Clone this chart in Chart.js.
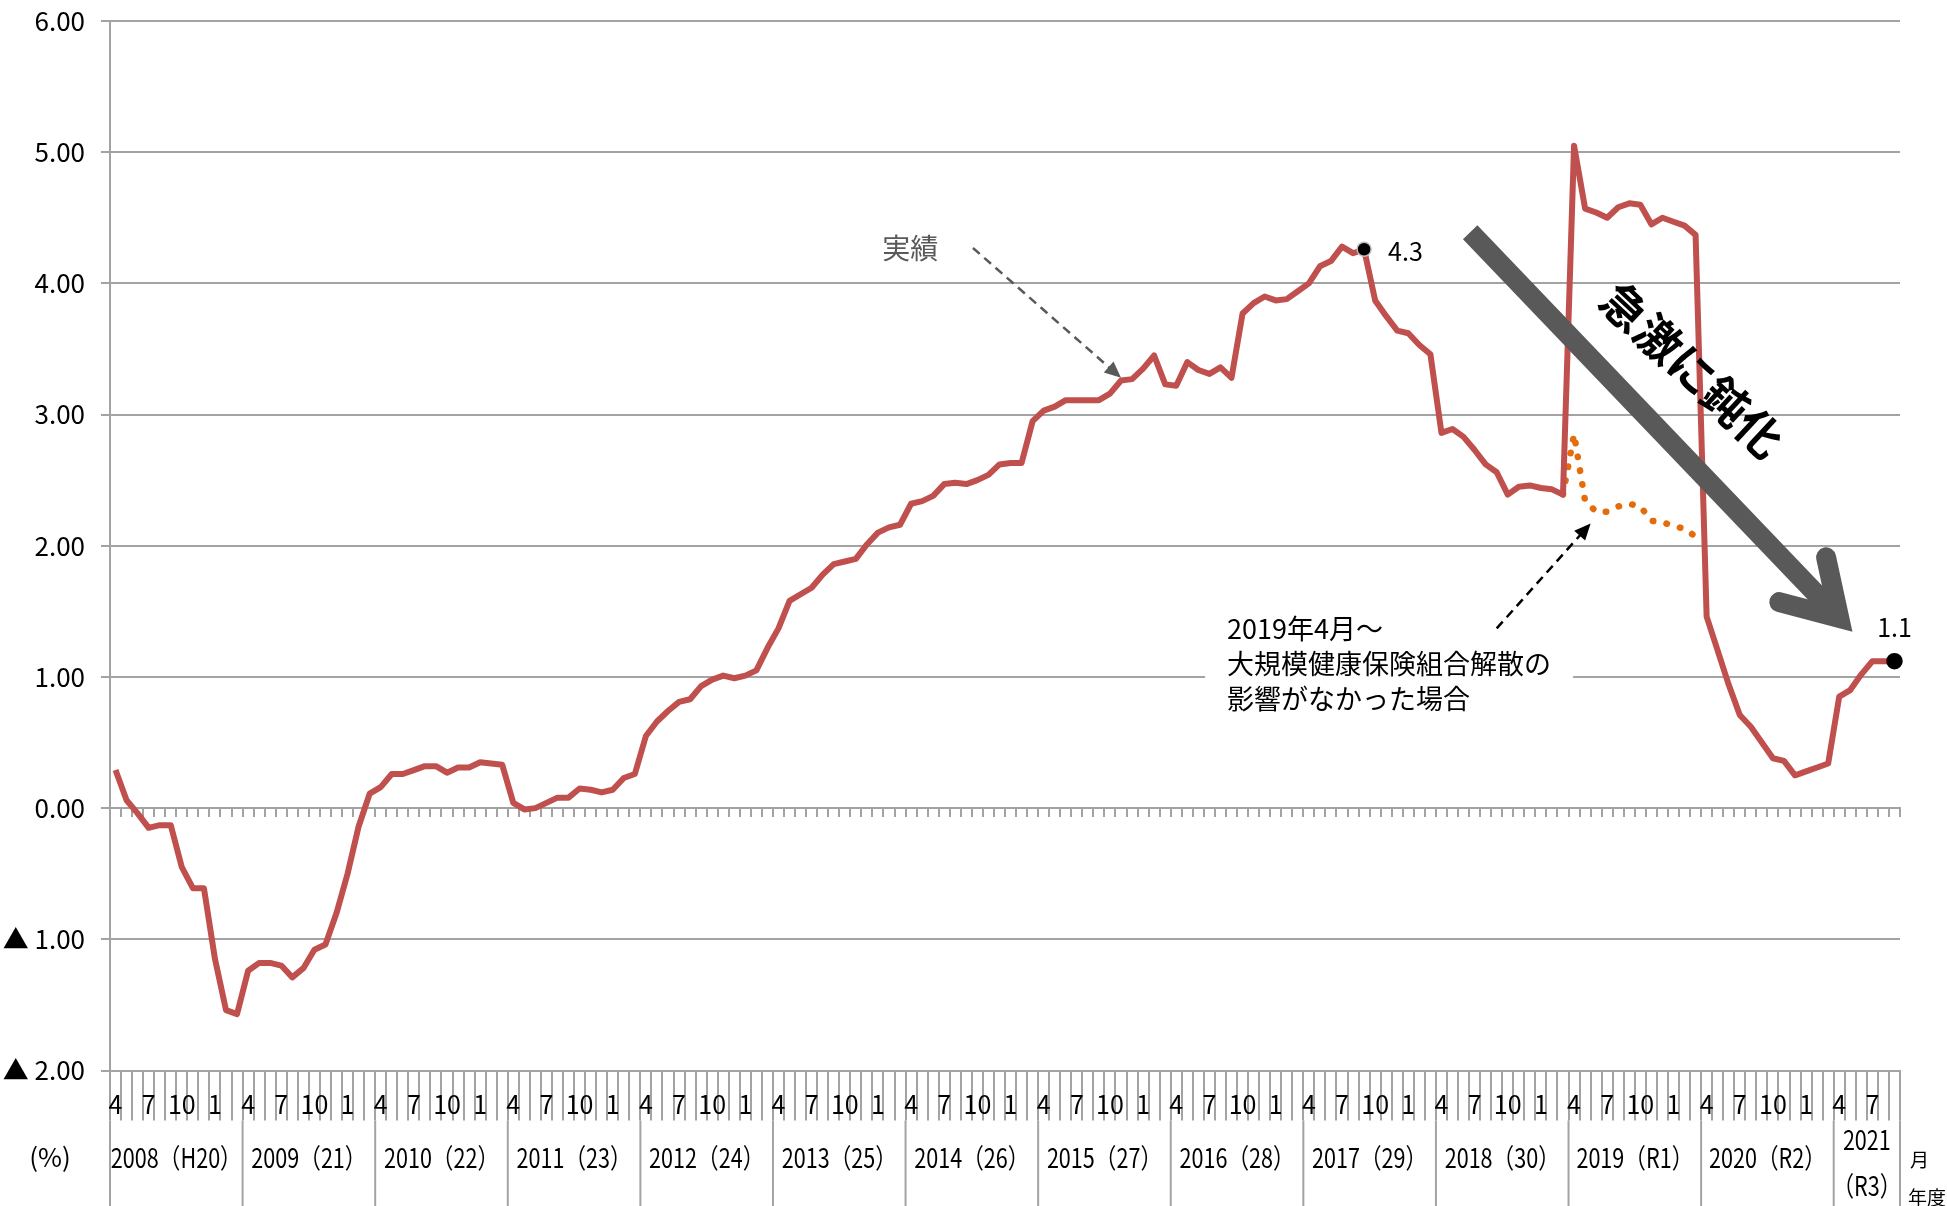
<!DOCTYPE html>
<html lang="ja">
<head>
<meta charset="utf-8">
<title>医療費の伸び率（実績）</title>
<script src="https://cdn.jsdelivr.net/npm/chart.js@4.4.1/dist/chart.umd.min.js"></script>
<style>
  html, body { margin: 0; padding: 0; background: #fff; }
</style>
</head>
<body>
<canvas id="chart" width="1947" height="1206"></canvas>
<script>
// fiscal years (April start) shown on the lower label row
const fiscalYears = ['2008（H20）', '2009（21）', '2010（22）', '2011（23）', '2012（24）', '2013（25）',
  '2014（26）', '2015（27）', '2016（28）', '2017（29）', '2018（30）', '2019（R1）', '2020（R2）', '2021\n（R3）'];
const monthOrder = [4, 5, 6, 7, 8, 9, 10, 11, 12, 1, 2, 3];
const shownMonths = [4, 7, 10, 1];
const yTicks = [-2, -1, 0, 1, 2, 3, 4, 5, 6];

// 実績 (%), one row per fiscal year
const actual = [
  0.29, 0.06, -0.04, -0.15, -0.13, -0.13, -0.45, -0.61, -0.61, -1.15, -1.54, -1.57,
  -1.24, -1.18, -1.18, -1.20, -1.29, -1.22, -1.08, -1.04, -0.80, -0.50, -0.14, 0.11,
  0.16, 0.26, 0.26, 0.29, 0.32, 0.32, 0.27, 0.31, 0.31, 0.35, 0.34, 0.33,
  0.04, -0.01, 0.00, 0.04, 0.08, 0.08, 0.15, 0.14, 0.12, 0.14, 0.23, 0.26,
  0.55, 0.66, 0.74, 0.81, 0.83, 0.93, 0.98, 1.01, 0.99, 1.01, 1.05, 1.22,
  1.37, 1.58, 1.63, 1.68, 1.78, 1.86, 1.88, 1.90, 2.01, 2.10, 2.14, 2.16,
  2.32, 2.34, 2.38, 2.47, 2.48, 2.47, 2.50, 2.54, 2.62, 2.63, 2.63, 2.95,
  3.03, 3.06, 3.11, 3.11, 3.11, 3.11, 3.16, 3.26, 3.27, 3.35, 3.45, 3.23,
  3.22, 3.40, 3.34, 3.31, 3.36, 3.28, 3.77, 3.85, 3.90, 3.87, 3.88, 3.94,
  4.00, 4.13, 4.17, 4.28, 4.23, 4.26, 3.87, 3.75, 3.64, 3.62, 3.53, 3.46,
  2.86, 2.89, 2.83, 2.73, 2.62, 2.56, 2.39, 2.45, 2.46, 2.44, 2.43, 2.39,
  5.05, 4.57, 4.54, 4.50, 4.58, 4.61, 4.60, 4.45, 4.50, 4.47, 4.44, 4.37,
  1.46, 1.20, 0.94, 0.71, 0.62, 0.50, 0.38, 0.36, 0.25, 0.28, 0.31, 0.34,
  0.85, 0.90, 1.02, 1.12, 1.12, 1.12
];

// 2019年4月～ 大規模健保組合解散の影響がなかった場合 (starts from 2019/3)
const withoutDissolution = [2.39, 2.85, 2.34, 2.26, 2.26, 2.30, 2.32, 2.30, 2.19, 2.18, 2.15, 2.13, 2.07];
const withoutStart = '2019/3';
const highlighted = ['2017/9', '2021/9'];

const GRID = '#a3a3a3';
const FONT = "'Noto Sans CJK JP', 'Noto Sans', sans-serif";

// category labels like "2008/4"
const labels = actual.map((v, i) => {
  const fy = 2008 + Math.floor(i / 12);
  const m = monthOrder[i % 12];
  return `${m >= 4 ? fy : fy + 1}/${m}`;
});
const startIdx = labels.indexOf(withoutStart);
const counterData = labels.map((l, i) =>
  i >= startIdx && i < startIdx + withoutDissolution.length ? withoutDissolution[i - startIdx] : null);

function arrowHead(ctx, x1, y1, x2, y2, size, color) {
  const a = Math.atan2(y2 - y1, x2 - x1);
  ctx.fillStyle = color;
  ctx.beginPath();
  ctx.moveTo(x2, y2);
  ctx.lineTo(x2 - size * Math.cos(a - 0.42), y2 - size * Math.sin(a - 0.42));
  ctx.lineTo(x2 - size * Math.cos(a + 0.42), y2 - size * Math.sin(a + 0.42));
  ctx.closePath();
  ctx.fill();
}

function dashedArrow(ctx, p1, p2, color, dash) {
  const a = Math.atan2(p2[1] - p1[1], p2[0] - p1[0]);
  ctx.save();
  ctx.strokeStyle = color;
  ctx.lineWidth = 2.5;
  ctx.setLineDash(dash);
  ctx.beginPath();
  ctx.moveTo(p1[0], p1[1]);
  ctx.lineTo(p2[0] - 12 * Math.cos(a), p2[1] - 12 * Math.sin(a));
  ctx.stroke();
  ctx.setLineDash([]);
  arrowHead(ctx, p1[0], p1[1], p2[0], p2[1], 18, color);
  ctx.restore();
}

const decor = {
  id: 'decor',
  afterDraw(chart) {
    const {ctx, chartArea: ca, scales: {x, y}} = chart;
    const at = (i, v) => [x.getPixelForValue(i), y.getPixelForValue(v)];
    const half = (x.getPixelForValue(1) - x.getPixelForValue(0)) / 2;
    const n = labels.length;
    const rowTop = ca.bottom + 50;
    const rowMid = rowTop + 37;
    ctx.save();

    // fiscal-year row
    ctx.strokeStyle = GRID;
    ctx.lineWidth = 2;
    ctx.fillStyle = '#000';
    ctx.textAlign = 'center';
    ctx.textBaseline = 'middle';
    fiscalYears.forEach((fy, k) => {
      const s = k * 12, e = Math.min(s + 11, n - 1);
      const left = x.getPixelForValue(s) - half;
      const right = x.getPixelForValue(e) + half;
      ctx.beginPath();
      ctx.moveTo(left, rowTop); ctx.lineTo(left, chart.height);
      if (e === n - 1) { ctx.moveTo(right, rowTop); ctx.lineTo(right, chart.height); }
      ctx.stroke();
      const cx = (left + right) / 2;
      const lines = fy.split('\n');
      ctx.font = `27px ${FONT}`;
      lines.forEach((t, j) => {
        const ty = lines.length > 1 ? rowMid - 18 + j * 46 : rowMid;
        ctx.save();
        ctx.translate(cx, ty);
        ctx.scale(0.8, 1);
        ctx.fillText(t, 0, 0);
        ctx.restore();
      });
    });
    ctx.font = `26px ${FONT}`;
    ctx.fillText('(%)', ca.left - 60, rowMid);
    ctx.font = `19px ${FONT}`;
    ctx.textAlign = 'left';
    ctx.fillText('月', ca.right + 10, rowMid + 2);
    ctx.fillText('年度', ca.right + 8, rowMid + 40);

    // value labels at highlighted points
    const meta = chart.getDatasetMeta(0);
    ctx.font = `25px ${FONT}`;
    highlighted.forEach((lab, k) => {
      const i = labels.indexOf(lab);
      const pt = meta.data[i];
      const txt = actual[i].toFixed(1);
      if (k === 0) { ctx.textAlign = 'left'; ctx.fillText(txt, pt.x + 24, pt.y + 2); }
      else { ctx.textAlign = 'center'; ctx.fillText(txt, pt.x, pt.y - 34); }
    });

    // 実績 label + arrow
    const [jx, jy] = at(69.4, 4.27);
    ctx.fillStyle = '#595959';
    ctx.textAlign = 'left';
    ctx.font = `28px ${FONT}`;
    ctx.fillText('実績', jx, jy);
    dashedArrow(ctx, at(77.6, 4.27), at(91, 3.28), '#595959', [9, 6]);

    // note box for the counterfactual line
    const noteLines = ['2019年4月～', '大規模健康保険組合解散の', '影響がなかった場合'];
    const [nx, ny] = at(100.6, 1.37);
    ctx.font = `27px ${FONT}`;
    const w = Math.max(...noteLines.map(t => ctx.measureText(t).width));
    ctx.fillStyle = '#fff';
    ctx.fillRect(nx - 22, ny - 24, w + 44, 35 * 2 + 48);
    ctx.fillStyle = '#000';
    noteLines.forEach((t, j) => ctx.fillText(t, nx, ny + j * 35));
    dashedArrow(ctx, at(125, 1.37), at(133.5, 2.17), '#000', [9, 6]);

    // big trend arrow
    const p1 = at(122.6, 4.39), p2 = at(156, 1.45);
    const a = Math.atan2(p2[1] - p1[1], p2[0] - p1[0]);
    ctx.strokeStyle = '#595959';
    ctx.lineWidth = 20;
    ctx.lineCap = 'butt';
    ctx.beginPath();
    ctx.moveTo(p1[0], p1[1]);
    ctx.lineTo(p2[0] - 8 * Math.cos(a), p2[1] - 8 * Math.sin(a));
    ctx.stroke();
    ctx.lineCap = 'round';
    ctx.lineJoin = 'miter';
    ctx.beginPath();
    ctx.moveTo(p2[0] - 62 * Math.cos(a - 0.55), p2[1] - 62 * Math.sin(a - 0.55));
    ctx.lineTo(p2[0], p2[1]);
    ctx.lineTo(p2[0] - 62 * Math.cos(a + 0.55), p2[1] - 62 * Math.sin(a + 0.55));
    ctx.stroke();

    // rotated caption
    const [tx, ty] = at(142.7, 3.34);
    ctx.save();
    ctx.translate(tx, ty);
    ctx.rotate(43 * Math.PI / 180);
    ctx.fillStyle = '#000';
    ctx.textAlign = 'center';
    ctx.font = `bold 46px ${FONT}`;
    ctx.fillText('急激に鈍化', 0, 0);
    ctx.restore();

    ctx.restore();
  }
};

new Chart(document.getElementById('chart'), {
  type: 'line',
  data: {
    labels,
    datasets: [
      {
        label: '実績',
        data: actual,
        xAxisID: 'x',
        borderColor: '#C0504D',
        borderWidth: 6,
        borderJoinStyle: 'round',
        tension: 0,
        order: 1,
        pointRadius: c => {
          const k = highlighted.indexOf(labels[c.dataIndex]);
          return k < 0 ? 0 : (k === 0 ? 7 : 7.5);
        },
        pointBackgroundColor: '#000',
        pointBorderColor: c => labels[c.dataIndex] === highlighted[0] ? '#bfbfbf' : '#000',
        pointBorderWidth: 1.5,
        pointHoverRadius: 0
      },
      {
        label: '解散の影響がなかった場合',
        data: counterData,
        xAxisID: 'x',
        borderColor: '#E46C0A',
        borderWidth: 6.5,
        borderDash: [0.5, 13.5],
        borderCapStyle: 'round',
        tension: 0,
        order: 2,
        pointRadius: 0
      }
    ]
  },
  options: {
    responsive: false,
    animation: false,
    layout: { padding: { top: 21, right: 47, bottom: 0, left: 0 } },
    plugins: { legend: { display: false }, tooltip: { enabled: false } },
    scales: {
      x: {
        type: 'category',
        offset: true,
        grid: { offset: true, drawOnChartArea: false, tickLength: 50, color: GRID, lineWidth: 2 },
        border: { display: true, color: GRID, width: 2 },
        ticks: {
          autoSkip: false, maxRotation: 0, minRotation: 0, padding: -31,
          color: '#000', font: { family: FONT, size: 25 },
          callback: (v, i) => shownMonths.includes(monthOrder[i % 12]) ? String(monthOrder[i % 12]) : ''
        },
        afterFit: s => { s.height = 135.5; }
      },
      xZero: {
        type: 'category',
        position: { y: 0 },
        offset: true,
        grid: { offset: true, drawOnChartArea: false, tickLength: 8, color: GRID, lineWidth: 2 },
        border: { display: true, color: GRID, width: 2 },
        ticks: { display: false }
      },
      y: {
        min: yTicks[0],
        max: yTicks[yTicks.length - 1],
        afterBuildTicks: s => { s.ticks = yTicks.map(v => ({ value: v })); },
        grid: { color: GRID, lineWidth: 2, tickLength: 9 },
        border: { display: true, color: GRID, width: 2 },
        ticks: {
          padding: 16, color: '#000', font: { family: FONT, size: 26 },
          callback: v => v < 0 ? '▲ ' + Math.abs(v).toFixed(2) : v.toFixed(2)
        },
        afterFit: s => { s.width = 110; s.paddingTop = 0; s.paddingBottom = 0; }
      }
    }
  },
  plugins: [decor]
});
</script>
</body>
</html>
